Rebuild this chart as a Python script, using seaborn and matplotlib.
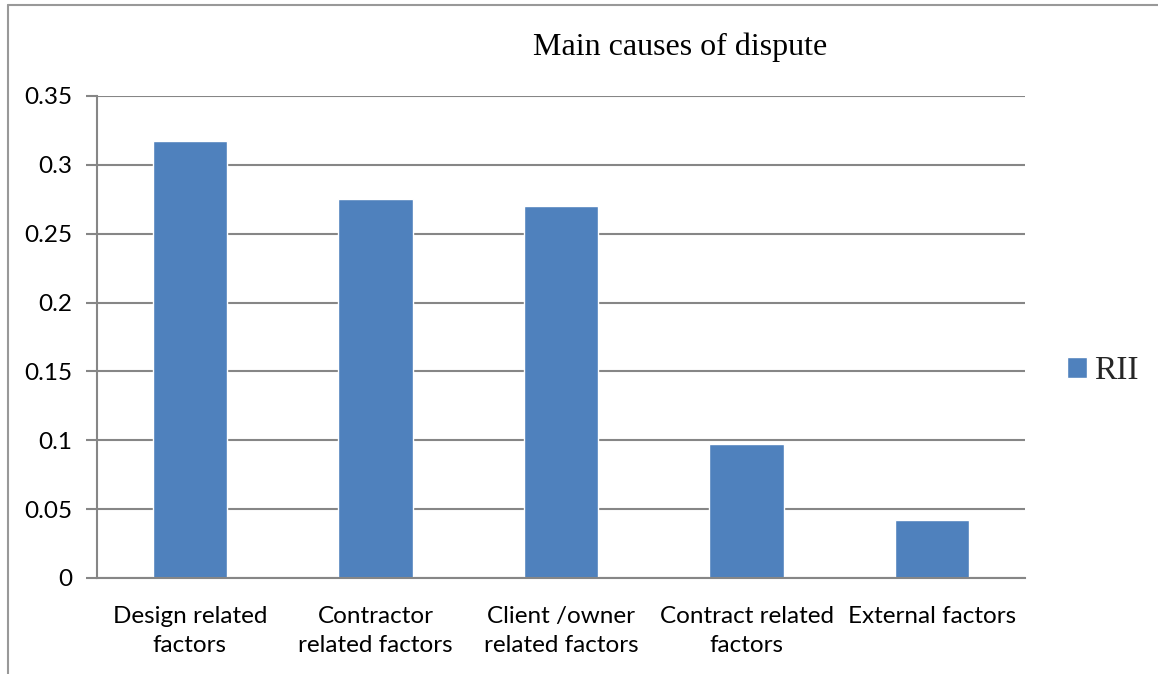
import pandas as pd
import numpy as np
import seaborn as sns
import matplotlib.pyplot as plt
from matplotlib.lines import Line2D
from matplotlib.ticker import FixedLocator

# data
categories = ["Design related\nfactors", "Contractor\nrelated factors",
              "Client /owner\nrelated factors", "Contract related\nfactors",
              "External factors"]
rii = [0.317, 0.275, 0.270, 0.097, 0.042]
yticks = [0, 0.05, 0.1, 0.15, 0.2, 0.25, 0.3, 0.35]
ytick_labels = ["0", "0.05", "0.1", "0.15", "0.2", "0.25", "0.3", "0.35"]

df = pd.DataFrame({"Cause": categories, "RII": rii})

sns.set_style("white")
plt.rcParams['font.family'] = ['Lato', 'DejaVu Sans']

fig = plt.figure(figsize=(11.58, 6.74), dpi=100)
ax = fig.add_axes([97/1158, 96/674, (1025-97)/1158, (578-96)/674])

sns.barplot(data=df, x="Cause", y="RII", color="#4F81BD", width=0.4,
            saturation=1, label="RII", ax=ax)

grid_col = "#868686"
ax.set_ylim(0, 0.35)
ax.set_xlim(-0.5, len(categories) - 0.5)
ax.set_yticks(yticks)
ax.set_yticklabels(ytick_labels, fontsize=17.5, color="black")
ax.yaxis.grid(True, color=grid_col, linewidth=1.5)
ax.set_axisbelow(True)
ax.set_xlabel("")
ax.set_ylabel("")

# Excel style: ticks between categories
ax.tick_params(axis="x", which="major", length=0, pad=20, labelsize=17.5,
               labelcolor="black")
ax.xaxis.set_minor_locator(FixedLocator(np.arange(-0.5, len(categories), 1)))
ax.tick_params(axis="x", which="minor", length=8, width=1.5, color=grid_col,
               direction="out")
ax.tick_params(axis="y", length=8, width=1.5, color=grid_col, direction="out",
               pad=10, left=True)
for lbl in ax.get_xticklabels():
    lbl.set_linespacing(1.5)

for s in ["top", "right"]:
    ax.spines[s].set_visible(False)
for s in ["left", "bottom"]:
    ax.spines[s].set_color(grid_col)
    ax.spines[s].set_linewidth(1.5)

fig.text(680/1158, 1 - 47/674, "Main causes of dispute", ha="center",
         va="center", fontsize=23, family="Liberation Serif", color="black")

leg = ax.legend(loc="center left", bbox_to_anchor=(1.013, 0.43), frameon=False,
                prop={"family": "Liberation Serif", "size": 24},
                handlelength=0.6, handleheight=0.6, handletextpad=0.2)

# outer chart border (left and top only visible)
fig.add_artist(Line2D([8/1158, 8/1158], [0, 1 - 5/674], color="#999999", lw=1.5))
fig.add_artist(Line2D([8/1158, 1], [1 - 5/674, 1 - 5/674], color="#999999", lw=1.5))

fig.savefig("out.png", dpi=100)
